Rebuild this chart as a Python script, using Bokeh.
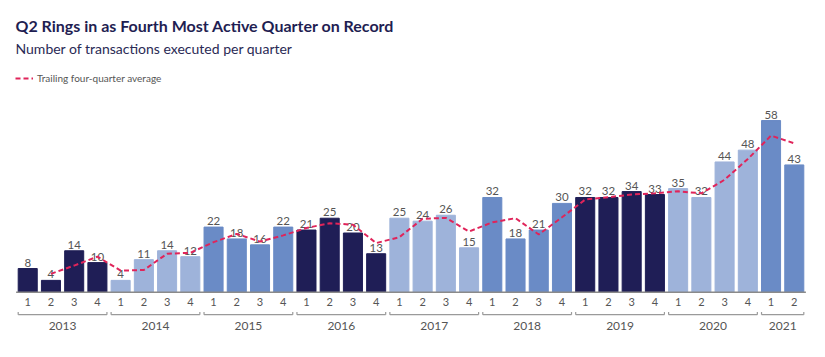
from bokeh.plotting import figure
from bokeh.models import ColumnDataSource, Range1d, Label, Legend, LegendItem
from bokeh.core.properties import value
from bokeh.embed import file_html
from bokeh.resources import INLINE

years = ["2013", "2014", "2015", "2016", "2017", "2018", "2019", "2020", "2021"]
quarters_per_year = [4, 4, 4, 4, 4, 4, 4, 4, 2]
transactions = [8, 4, 14, 10,
                4, 11, 14, 12,
                22, 18, 16, 22,
                21, 25, 20, 13,
                25, 24, 26, 15,
                32, 18, 21, 30,
                32, 32, 34, 33,
                35, 32, 44, 48,
                58, 43]
# trailing four-quarter average as drawn (starts at 2013 Q2)
trailing_avg = [6.2, 9.0, 12.0,
                7.3, 7.5, 13.0, 13.3,
                16.9, 19.7, 17.1, 19.2,
                21.7, 23.3, 22.8, 16.6,
                18.6, 24.8, 25.1, 20.5,
                23.6, 25.0, 19.5, 25.3,
                31.3, 32.1, 33.0, 33.4,
                34.1, 33.4, 38.0, 45.0,
                52.9, 50.3]
year_colors = ["#1f1e56", "#9eb3da", "#6a8bc6"]

FONT = "Lato"
W, H = 825, 357

xs, qlabels, colors = [], [], []
i = 0
for yi, n in enumerate(quarters_per_year):
    for q in range(n):
        xs.append(i)
        qlabels.append(str(q + 1))
        colors.append(year_colors[yi % 3])
        i += 1

bar_w = 0.82
src = ColumnDataSource(dict(x=xs, top=transactions, color=colors,
                            label=[str(v) for v in transactions], q=qlabels,
                            zero=[0] * len(xs)))

p = figure(width=W, height=H, output_backend="svg", toolbar_location=None,
           x_range=Range1d(-1.172, 34.344), y_range=Range1d(-22.06, 98.55),
           min_border=0, outline_line_color=None)
p.axis.visible = False
p.grid.visible = False
p.background_fill_color = "white"
p.border_fill_color = "white"

p.vbar(x="x", top="top", width=bar_w, color="color", source=src)

# baseline
p.segment(x0=[-0.5], y0=[0], x1=[len(xs) - 0.5], y1=[0], line_color="#8a8a8a", line_width=1.5)

# value labels
p.text(x="x", y="top", text="label", source=src, text_align="center", text_baseline="bottom",
       y_offset=-2, text_font=value(FONT), text_font_size="11.5px", text_color="#555555")

# quarter labels
p.text(x="x", y="zero", text="q", source=src, text_align="center", text_baseline="middle",
       y_offset=10, text_font=value(FONT), text_font_size="11px", text_color="#555555")

# year brackets and labels
bx0, bx1, ymid = [], [], []
start = 0
for n in quarters_per_year:
    bx0.append(start - bar_w / 2)
    bx1.append(start + n - 1 + bar_w / 2)
    ymid.append(start + (n - 1) / 2)
    start += n
yb = [-7.6] * len(years)
yt = [-6.7] * len(years)
p.segment(x0=bx0, y0=yb, x1=bx1, y1=yb, line_color="#9a9a9a", line_width=1.2)
p.segment(x0=bx0, y0=yb, x1=bx0, y1=yt, line_color="#9a9a9a", line_width=1.2)
p.segment(x0=bx1, y0=yb, x1=bx1, y1=yt, line_color="#9a9a9a", line_width=1.2)
p.text(x=ymid, y=[-11.3] * len(years), text=years, text_align="center", text_baseline="middle",
       text_font=value(FONT), text_font_size="12px", text_color="#555555")

# trailing average line
avg_line = p.line(x=xs[1:], y=trailing_avg, line_color="#e0245a", line_width=2, line_dash="5 3")

legend = Legend(items=[LegendItem(label="Trailing four-quarter average", renderers=[avg_line])],
                location=(15, H - 84), orientation="horizontal", border_line_color=None,
                background_fill_alpha=0, label_text_font=FONT, label_text_font_size="10px",
                label_text_color="#555555", glyph_width=18, glyph_height=10,
                label_standoff=4, padding=0, margin=0, spacing=0, label_height=10)
p.add_layout(legend)

p.add_layout(Label(x=15, y=H - 25, x_units="screen", y_units="screen",
                   text="Q2 Rings in as Fourth Most Active Quarter on Record",
                   text_font=FONT, text_font_size="16px", text_font_style="bold",
                   text_color="#1f1e52", text_baseline="middle"))
p.add_layout(Label(x=15, y=H - 48, x_units="screen", y_units="screen",
                   text="Number of transactions executed per quarter",
                   text_font=FONT, text_font_size="14px",
                   text_color="#2a2a55", text_baseline="middle"))

open("out.html", "w").write(file_html(p, INLINE))
